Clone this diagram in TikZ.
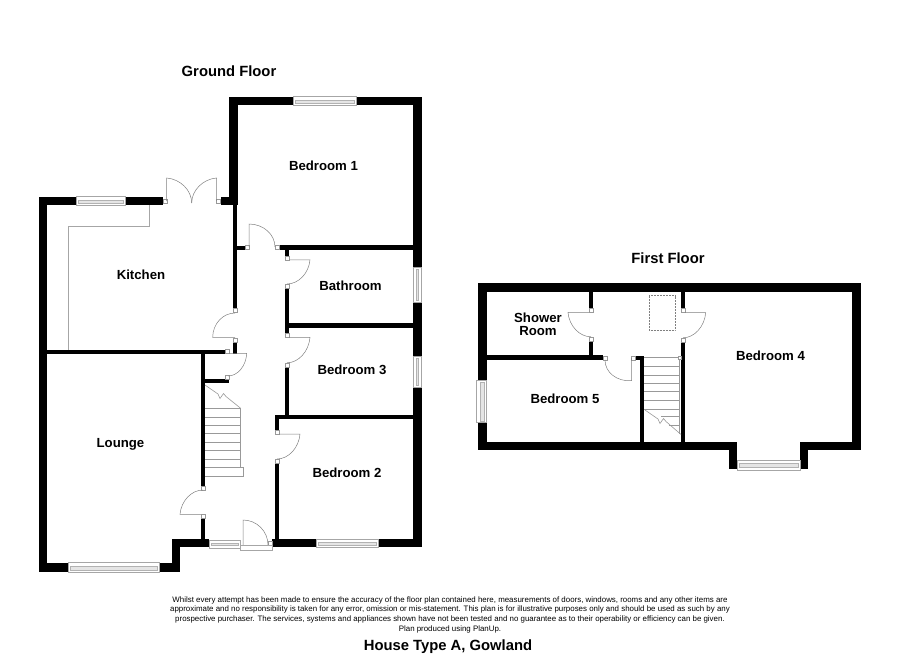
\documentclass[tikz,border=0pt]{standalone}
\usepackage{fontspec}
\setmainfont{Liberation Sans}
\usetikzlibrary{calc}

\tikzset{
  wall/.style={fill=black},
  jamb/.style={draw=black!40, fill=white, line width=0.5pt},
  leaf/.style={draw=black!50, line width=0.5pt},
  tread/.style={draw=black!40, line width=0.6pt},
  frame/.style={draw=black!35, fill=white, line width=0.5pt},
  pane/.style={draw=black!30, fill=black!10, line width=0.4pt},
  worktop/.style={draw=black!35, line width=0.7pt},
  room/.style={font=\bfseries\fontsize{13.2}{13.5}\selectfont, align=center},
  heading/.style={font=\bfseries\fontsize{14.8}{16}\selectfont},
  smallprint/.style={font=\fontsize{7.9}{9.7}\selectfont, align=center}
}
\newcommand{\doorleaf}[3]{\draw[leaf] (#1) -- (#2)
  .. controls ($(#2)+.55*(#3)-.55*(#1)$) and ($(#3)+.55*(#2)-.55*(#1)$) .. (#3);}
\newcommand{\hwindow}[4]{\draw[frame] (#1,#3) rectangle (#2,#4);
  \draw[pane] ($(#1,#3)+(2,3.5)$) rectangle ($(#2,#4)+(-2,-2.4)$);}
\newcommand{\vwindow}[4]{\draw[frame] (#1,#3) rectangle (#2,#4);
  \draw[pane] ($(#1,#3)+(3,2)$) rectangle ($(#2,#4)+(-3,-2)$);}

\begin{document}
\begin{tikzpicture}[x=1pt, y=-1pt]
\useasboundingbox (0,0) rectangle (900,654);

% ground floor, outer walls
\fill[wall] (39,197) rectangle (47,572);
\fill[wall] (39,197) rectangle (76,205);
\fill[wall] (125,197) rectangle (163,205);
\fill[wall] (220.5,197) rectangle (238,205);
\fill[wall] (229,97) rectangle (237.5,205);
\fill[wall] (229,97) rectangle (293,105);
\fill[wall] (356,97) rectangle (421.5,105);
\fill[wall] (413,97) rectangle (421.5,267);
\fill[wall] (413,302) rectangle (421.5,355.5);
\fill[wall] (413,387) rectangle (421.5,547);
\fill[wall] (39,563) rectangle (68,572);
\fill[wall] (159,563) rectangle (180,572);
\fill[wall] (172,539) rectangle (180,572);
\fill[wall] (172,539) rectangle (209,547);
\fill[wall] (272,539) rectangle (316,547);
\fill[wall] (378,539) rectangle (421.5,547);

% ground floor, inner walls
\fill[wall] (233.3,205) rectangle (237.3,308);
\fill[wall] (233.3,342) rectangle (237.3,354);
\fill[wall] (237,245.5) rectangle (245,249.5);
\fill[wall] (279,245.2) rectangle (413,249.5);
\fill[wall] (285,249) rectangle (289,256);
\fill[wall] (285,288.3) rectangle (289.3,333);
\fill[wall] (289,323.3) rectangle (413,328);
\fill[wall] (285,367) rectangle (289.3,415);
\fill[wall] (274.5,414.7) rectangle (413,419);
\fill[wall] (274.5,415) rectangle (279,430);
\fill[wall] (274.8,463) rectangle (279.2,540);
\fill[wall] (47,349.5) rectangle (225,354);
\fill[wall] (201,354) rectangle (205,486);
\fill[wall] (205,379.3) rectangle (229,383);
\fill[wall] (201,518) rectangle (205,540);

% ground floor, door jambs
\foreach \jx/\jy in {163/199, 216.7/199, 233.3/308.2, 233.3/337.8, 245/245.7, 275/245.7,
                     285/256, 285/284.3, 285/333, 285/363, 275/430, 275/459,
                     225/349.7, 225/375.4, 201/486, 201/514, 268/541}
  \draw[jamb] (\jx,\jy) rectangle +(4,4);

% ground floor, doors
\doorleaf{166.7,201}{166.7,178}{191.7,203}
\doorleaf{216.5,201}{216.5,178}{191.7,203}
\doorleaf{249,247}{249,224}{275,247}
\doorleaf{235,337.4}{212.7,337.4}{235,313}
\doorleaf{229,353.4}{246.7,353.4}{228,376}
\doorleaf{289,259.8}{310,259.8}{287,284}
\doorleaf{289,337.3}{310,337.3}{287,362.8}
\doorleaf{279,434}{300,434}{277,459}
\doorleaf{201,514.3}{180,514.3}{203,490}
\doorleaf{243,545}{243,520}{268,545}
\draw[frame] (240,545) rectangle (271.8,550.6);

% ground floor, windows
\hwindow{76}{125}{196.5}{205.5}
\hwindow{293}{356}{96.5}{105.5}
\hwindow{68}{159}{562.7}{572.2}
\hwindow{209}{240}{540}{548}
\hwindow{316}{378}{539}{547.5}
\vwindow{413.5}{421.5}{267}{302}
\vwindow{413.5}{421.5}{356}{387}

% ground floor, kitchen worktop
\draw[worktop] (68.3,349.5) -- (68.3,226) -- (149.3,226) -- (149.3,205);

% ground floor, stairs
\foreach \ty in {408.3, 417, 425.3, 433.7, 442.3, 450.7, 459.3, 467.7}
  \draw[tread] (205,\ty) -- (240.7,\ty);
\draw[tread] (240.7,408.3) -- (240.7,467.7);
\draw[tread] (205,476) -- (243.3,476) -- (243.3,467) -- (239,467) -- (239,467.7);
\draw[tread] (205,385) -- (218,394) -- (220,398.5) -- (223.5,393.5) -- (226,396.5) -- (240.7,408.3);

% first floor, outer walls
\fill[wall] (478.3,283.3) rectangle (860.7,291.7);
\fill[wall] (478.3,283.3) rectangle (486.7,380);
\fill[wall] (478.3,422.7) rectangle (486.7,450);
\fill[wall] (852.3,283.3) rectangle (860.7,450);
\fill[wall] (478.3,441.8) rectangle (737.3,450);
\fill[wall] (800.3,441.8) rectangle (860.7,450);
\fill[wall] (729,442) rectangle (737.3,469);
\fill[wall] (800.3,442) rectangle (808.3,469);

% first floor, inner walls
\fill[wall] (589.3,291) rectangle (593.3,308);
\fill[wall] (589.3,341) rectangle (593.3,360);
\fill[wall] (486,355.4) rectangle (603,360);
\fill[wall] (635.7,355.6) rectangle (644,360);
\fill[wall] (639.5,355.6) rectangle (644,442);
\fill[wall] (681,291) rectangle (685,308.3);
\fill[wall] (681,341.7) rectangle (685,442);

% first floor, door jambs
\foreach \jx/\jy in {589.3/308.2, 589.3/337, 603/355.8, 631.7/355.8, 681/308.3, 681/337.8}
  \draw[jamb] (\jx,\jy) rectangle +(4,4);

% first floor, doors and roof light
\doorleaf{589,312.4}{568,312.4}{591,336.8}
\doorleaf{631.7,358}{631.7,380.7}{605,360}
\doorleaf{685,312.7}{705.7,312.7}{683,337.8}
\draw[draw=black!50, densely dotted, line width=0.5pt] (649,295.7) rectangle (675,330);

% first floor, windows
\vwindow{476.7}{486.7}{380}{422.7}
\hwindow{737.3}{800.3}{460}{470}

% first floor, stairs
\foreach \ty in {357.7, 366.7, 375, 383.3, 391.7, 400.3, 409}
  \draw[tread] (644,\ty) -- (679.5,\ty);
\foreach \ty/\tx in {416.7/661, 425/669}
  \draw[tread] (\tx,\ty) -- (679.5,\ty);
\draw[tread] (679.5,357) -- (679.5,434);
\draw[jamb] (678.5,356) rectangle +(2.5,3);
\draw[tread] (645,410) -- (658,419) -- (660,423.5) -- (663.5,418.5) -- (666,421.5) -- (681,434.5);

% labels
\node[heading] (groundfloor) at (229,71) {Ground Floor};
\node[heading] (firstfloor) at (668,258) {First Floor};
\node[room] (bedroomone) at (323.5,165.8) {Bedroom 1};
\node[room] (kitchen) at (141,274.8) {Kitchen};
\node[room] (bathroom) at (350.5,285.8) {Bathroom};
\node[room] (bedroomthree) at (352,369.8) {Bedroom 3};
\node[room] (bedroomtwo) at (347,472.8) {Bedroom 2};
\node[room] (lounge) at (120.5,444.8) {Lounge};
\node[room] (showerroom) at (538,324.3) {Shower\\Room};
\node[room] (bedroomfive) at (565,398.8) {Bedroom 5};
\node[room] (bedroomfour) at (770.5,355.8) {Bedroom 4};
\node[smallprint] (disclaimer) at (450,614.5) {Whilst every attempt has been made to ensure the accuracy of the floor plan contained here, measurements of doors, windows, rooms and any other items are\\
approximate and no responsibility is taken for any error, omission or mis-statement. This plan is for illustrative purposes only and should be used as such by any\\
prospective purchaser. The services, systems and appliances shown have not been tested and no guarantee as to their operability or efficiency can be given.\\
Plan produced using PlanUp.};
\node[heading] (housetype) at (448,647) {House Type A, Gowland};
\end{tikzpicture}
\end{document}
